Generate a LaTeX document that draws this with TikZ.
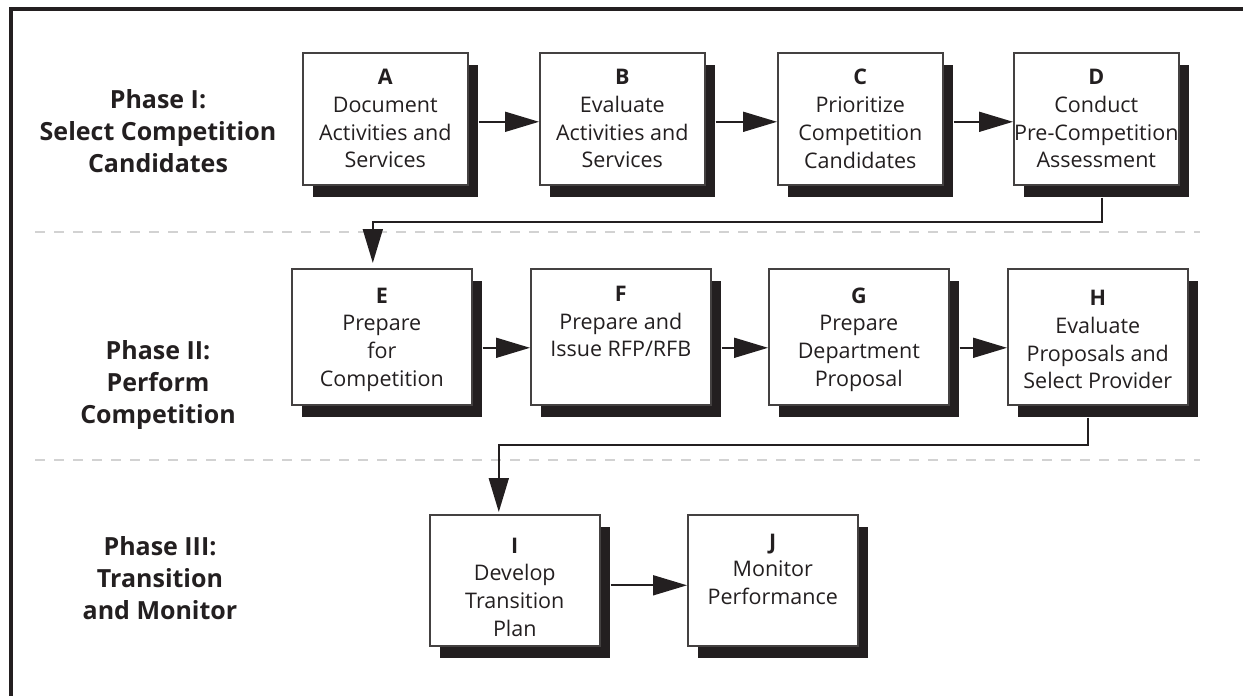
\documentclass[tikz,border=0pt]{standalone}
\usepackage{fontspec}
\setmainfont{Open Sans}
\usetikzlibrary{arrows.meta,shadows,calc}
\definecolor{ink}{HTML}{231F20}
\definecolor{dashgrey}{HTML}{D2D2D2}
\begin{document}
\begin{tikzpicture}[x=1pt,y=-1pt,
  box/.style={draw=ink!85, line width=1.6pt, fill=white, align=center, text=ink,
    font=\fontsize{21.5}{27.7}\selectfont, inner sep=0pt, anchor=north west,
    drop shadow={shadow xshift=10pt, shadow yshift=-12pt, fill=ink, opacity=1}},
  rowone/.style={box, minimum width=165pt, minimum height=132pt},
  rowtwo/.style={box, minimum width=180pt, minimum height=136pt},
  rowthree/.style={box, minimum width=170pt, minimum height=131pt},
  phase/.style={align=center, text=ink, font=\fontsize{25}{32}\selectfont\bfseries},
  arr/.style={draw=ink, line width=1.8pt, -{Triangle[length=34pt,width=20pt]}},
  sep/.style={draw=dashgrey, line width=2pt, dash pattern=on 10pt off 9pt},
  frame/.style={draw=ink, line width=3.2pt}
]
\useasboundingbox (0,0) rectangle (1243,696);

% frame
\draw[frame] (11,697) -- (11,9) -- (1244,9);

% separators
\draw[sep] (35,232) -- (1200,232);
\draw[sep] (35,460) -- (1200,460);

% phase labels
\node[phase] (p1) at (158,131) {Phase I:\\Select Competition\\Candidates};
\node[phase] (p2) at (158,385) {Phase II:\\Perform\\Competition};
\node[phase] (p3) at (160,578) {Phase III:\\Transition\\and Monitor};

% row 1
\node[rowone] (A) at (302,52) {\textbf{A}\\Document\\Activities and\\Services};
\node[rowone] (B) at (539,52) {\textbf{B}\\Evaluate\\Activities and\\Services};
\node[rowone] (C) at (777,52) {\textbf{C}\\Prioritize\\Competition\\Candidates};
\node[rowone] (D) at (1013,52) {\textbf{D}\\Conduct\\Pre-Competition\\Assessment};

% row 2
\node[rowtwo] (E) at (291,268) {\rule{0pt}{21pt}\textbf{E}\\Prepare\\for\\Competition};
\node[rowtwo] (F) at (530,268) {\rule{0pt}{21pt}\textbf{F}\\Prepare and\\Issue RFP/RFB\\\strut};
\node[rowtwo] (G) at (768,268) {\rule{0pt}{21pt}\textbf{G}\\Prepare\\Department\\Proposal};
\node[rowtwo] (H) at (1007,268) {\rule{0pt}{21pt}\textbf{H}\\Evaluate\\Proposals and\\Select Provider};

% row 3
\node[rowthree] (I) at (429,514) {\rule{0pt}{29pt}\textbf{I}\\Develop\\Transition\\Plan};
\node[rowthree] (J) at (687,514) {\rule{0pt}{29pt}\textbf{J}\\Monitor\\Performance\\\strut};

% arrows row 1
\draw[arr] ([shift={(10,3)}]A.east) -- ([shift={(0,3)}]B.west);
\draw[arr] ([shift={(10,3)}]B.east) -- ([shift={(0,3)}]C.west);
\draw[arr] ([shift={(10,3)}]C.east) -- ([shift={(0,3)}]D.west);

% arrows row 2
\draw[arr] ([shift={(10,11)}]E.east) -- ([shift={(0,11)}]F.west);
\draw[arr] ([shift={(10,11)}]F.east) -- ([shift={(0,11)}]G.west);
\draw[arr] ([shift={(10,11)}]G.east) -- ([shift={(0,11)}]H.west);

% arrow row 3
\draw[arr] ([shift={(10,5)}]I.east) -- ([shift={(0,5)}]J.west);

% phase transitions
\draw[arr] ([shift={(6,12)}]D.south) -- ++(0,24) -| ([shift={(-9,-5)}]E.north);
\draw[arr] ([shift={(-9.5,12)}]H.south) -- ++(0,27) -| ([shift={(-16,-2)}]I.north);
\end{tikzpicture}
\end{document}
